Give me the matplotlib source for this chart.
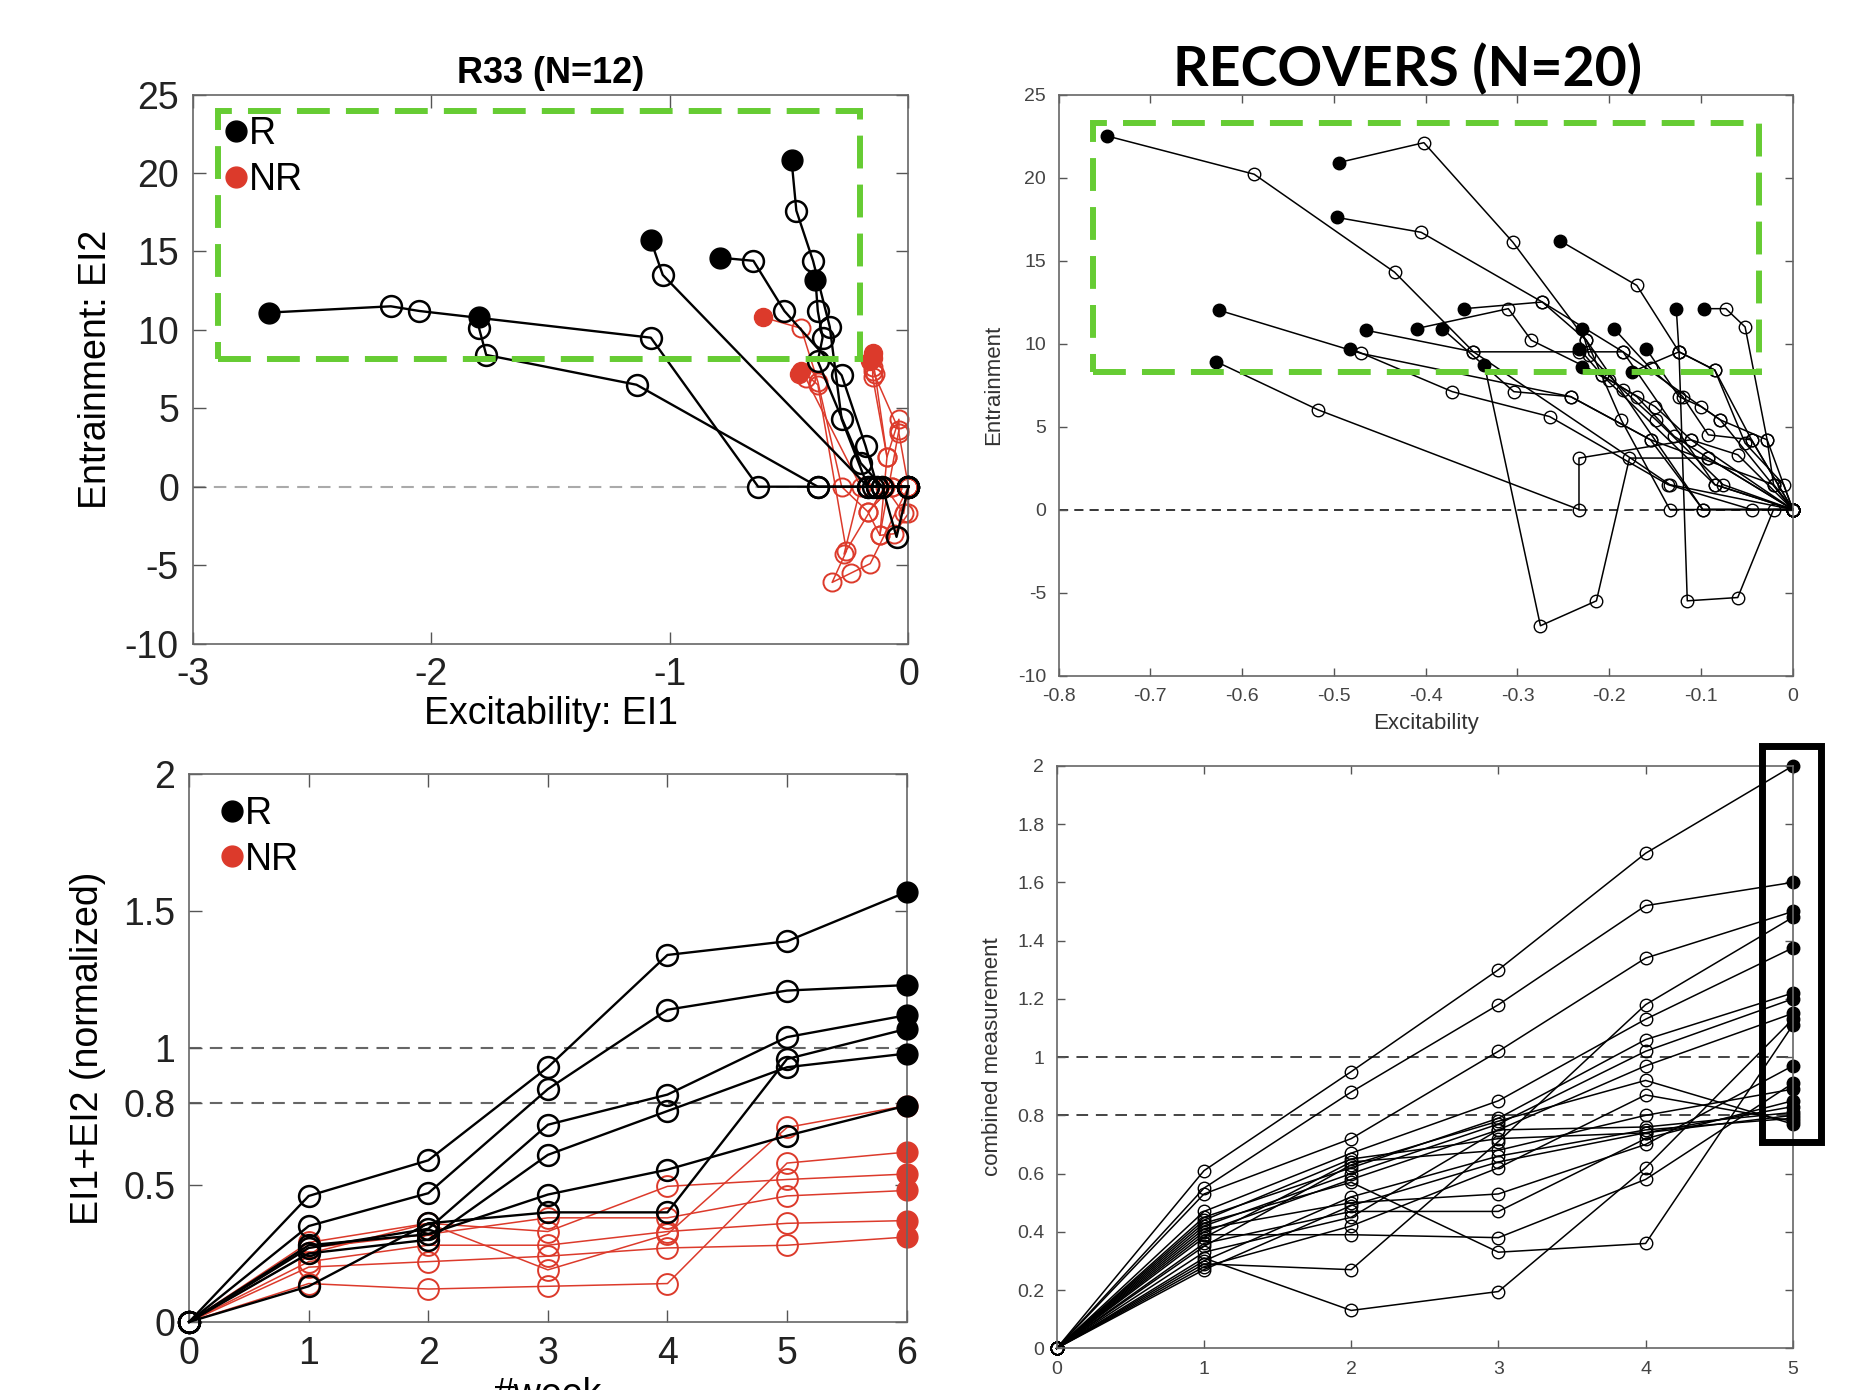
import matplotlib
matplotlib.use("Agg")
import matplotlib.pyplot as plt
from matplotlib.lines import Line2D
from matplotlib.patches import Rectangle

plt.rcParams['font.family'] = ['Liberation Sans', 'DejaVu Sans']
plt.rcParams['axes.unicode_minus'] = False

# ---- top left: R33, EI1 vs EI2 trajectories (week 0 .. week 6) ----
r33_R_x = [
    [0, -0.38, -0.63, -1.08, -2.05, -2.17, -2.68],
    [0, -0.13, -0.38, -1.14, -1.77, -1.80, -1.80],
    [0, -0.05, -0.11, -0.15, -0.17, -1.03, -1.08],
    [0, -0.13, -0.18, -0.28, -0.52, -0.65, -0.79],
    [0, -0.17, -0.28, -0.33, -0.40, -0.47, -0.49],
    [0, -0.11, -0.20, -0.38, -0.36, -0.38, -0.39],
]
r33_R_y = [
    [0, 0, 0, 9.5, 11.2, 11.5, 11.1],
    [0, 0, 0, 6.5, 8.4, 10.1, 10.8],
    [0, -3.2, 0, 0, 0, 13.5, 15.7],
    [0, 0, 2.6, 7.1, 11.2, 14.4, 14.6],
    [0, 0, 4.3, 10.2, 14.4, 17.6, 20.8],
    [0, 0, 1.5, 8.0, 9.5, 11.2, 13.2],
]
r33_NR_x = [
    [0, -0.07, -0.17, -0.28, -0.38, -0.45, -0.61],
    [0, -0.16, -0.24, -0.32, -0.26, -0.38, -0.45],
    [0, -0.04, -0.04, -0.09, -0.15, -0.15, -0.15],
    [0, 0.0, -0.06, -0.12, -0.09, -0.14, -0.15],
    [0, -0.07, -0.17, -0.12, -0.04, -0.15, -0.16],
    [0, -0.02, -0.10, -0.27, -0.20, -0.43, -0.46],
]
r33_NR_y = [
    [0, 0, -1.6, 0, 6.7, 10.1, 10.8],
    [0, -4.9, -5.5, -6.1, -4.1, 6.5, 7.4],
    [0, 3.4, 4.3, 1.9, 7.0, 7.6, 8.5],
    [0, -1.7, -3.0, -3.1, 1.9, 7.2, 8.2],
    [0, 0, -1.6, -3.1, 3.6, 7.4, 8.0],
    [0, -1.7, 0, -4.3, 0, 6.9, 7.2],
]

# ---- bottom left: EI1+EI2 per week ----
weeks6 = [0, 1, 2, 3, 4, 5, 6]
comb_R = [
    [0, 0.46, 0.59, 0.93, 1.34, 1.39, 1.57],
    [0, 0.35, 0.47, 0.85, 1.14, 1.21, 1.23],
    [0, 0.27, 0.34, 0.72, 0.83, 1.04, 1.12],
    [0, 0.25, 0.30, 0.61, 0.77, 0.93, 0.98],
    [0, 0.28, 0.32, 0.465, 0.556, 0.68, 0.79],
    [0, 0.13, 0.36, 0.40, 0.40, 0.96, 1.07],
]
comb_NR = [
    [0, 0.29, 0.36, 0.33, 0.495, 0.52, 0.54],
    [0, 0.14, 0.12, 0.13, 0.14, 0.58, 0.62],
    [0, 0.25, 0.36, 0.19, 0.32, 0.71, 0.79],
    [0, 0.27, 0.32, 0.38, 0.38, 0.46, 0.48],
    [0, 0.22, 0.28, 0.28, 0.33, 0.36, 0.37],
    [0, 0.20, 0.22, 0.24, 0.27, 0.28, 0.31],
]

# ---- top right: RECOVERS (N=20), week 0 .. week 5 ----
rec_x = [
    [0, -0.134, -0.348, -0.434, -0.587, -0.747],
    [0, -0.098, -0.225, -0.305, -0.402, -0.495],
    [0, -0.085, -0.185, -0.273, -0.405, -0.497],
    [0, -0.045, -0.085, -0.124, -0.17, -0.254],
    [0, -0.021, -0.155, -0.242, -0.47, -0.625],
    [0, -0.111, -0.233, -0.233, -0.517, -0.628],
    [0, -0.021, -0.06, -0.115, -0.124, -0.127],
    [0, -0.092, -0.178, -0.214, -0.275, -0.336],
    [0, -0.021, -0.028, -0.052, -0.073, -0.097],
    [0, -0.079, -0.185, -0.233, -0.348, -0.465],
    [0, -0.085, -0.208, -0.285, -0.31, -0.41],
    [0, -0.098, -0.155, -0.242, -0.304, -0.382],
    [0, -0.134, -0.187, -0.225, -0.273, -0.358],
    [0, -0.045, -0.136, -0.265, -0.371, -0.482],
    [0, -0.076, -0.149, -0.185, -0.222, -0.23],
    [0, -0.092, -0.129, -0.17, -0.208, -0.233],
    [0, -0.06, -0.111, -0.15, -0.2, -0.23],
    [0, -0.045, -0.092, -0.12, -0.155, -0.195],
    [0, -0.028, -0.079, -0.1, -0.124, -0.16],
    [0, -0.01, -0.052, -0.085, -0.124, -0.175],
]
rec_y = [
    [0, 1.5, 9.5, 14.3, 20.2, 22.5],
    [0, 0, 10.2, 16.1, 22.1, 20.9],
    [0, 1.5, 9.5, 12.5, 16.7, 17.6],
    [0, 4.2, 8.4, 9.5, 13.5, 16.2],
    [0, 1.5, 4.2, 6.8, 9.4, 12.0],
    [0, 4.2, 3.1, 0, 6.0, 8.9],
    [0, 0, -5.3, -5.5, 9.5, 12.1],
    [0, 3.1, 3.1, -5.5, -7.0, 8.7],
    [0, 1.5, 4.2, 11.0, 12.1, 12.1],
    [0, 5.4, 9.5, 9.5, 9.5, 10.8],
    [0, 1.5, 8.1, 10.2, 12.1, 10.9],
    [0, 0, 4.2, 6.8, 7.1, 10.9],
    [0, 0, 5.4, 10.2, 12.5, 12.1],
    [0, 0, 1.5, 5.6, 7.1, 9.7],
    [0, 1.5, 5.4, 7.2, 9.3, 10.9],
    [0, 3.1, 4.4, 6.8, 8.1, 9.7],
    [0, 3.3, 4.2, 6.2, 7.8, 8.6],
    [0, 4.2, 4.5, 6.8, 8.5, 10.9],
    [0, 4.2, 5.4, 6.2, 6.8, 9.7],
    [0, 1.5, 4.0, 8.4, 9.5, 8.3],
]

# ---- bottom right: combined measurement, week 0 .. week 5 ----
weeks5 = [0, 1, 2, 3, 4, 5]
rec_comb = [
    [0, 0.61, 0.95, 1.30, 1.70, 2.00],
    [0, 0.55, 0.88, 1.18, 1.52, 1.60],
    [0, 0.53, 0.72, 1.02, 1.34, 1.50],
    [0, 0.29, 0.27, 0.71, 1.18, 1.48],
    [0, 0.47, 0.67, 0.85, 1.13, 1.375],
    [0, 0.45, 0.62, 0.79, 1.06, 1.22],
    [0, 0.42, 0.60, 0.77, 1.02, 1.20],
    [0, 0.40, 0.58, 0.75, 0.97, 1.15],
    [0, 0.31, 0.13, 0.195, 0.62, 1.13],
    [0, 0.43, 0.57, 0.33, 0.36, 1.11],
    [0, 0.39, 0.39, 0.38, 0.58, 0.91],
    [0, 0.41, 0.50, 0.53, 0.70, 0.97],
    [0, 0.36, 0.47, 0.47, 0.72, 0.85],
    [0, 0.44, 0.65, 0.72, 0.74, 0.83],
    [0, 0.38, 0.64, 0.68, 0.80, 0.89],
    [0, 0.33, 0.45, 0.75, 0.76, 0.81],
    [0, 0.30, 0.52, 0.66, 0.75, 0.79],
    [0, 0.28, 0.42, 0.62, 0.87, 0.78],
    [0, 0.35, 0.63, 0.78, 0.92, 0.77],
    [0, 0.27, 0.49, 0.64, 0.74, 0.80],
]

RED = '#dc3a2b'
GREEN = '#66cc33'


def traj(ax, x, y, color, ms, lw, mew, z=2):
    ax.plot(x, y, '-', color=color, lw=lw, clip_on=False, zorder=z)
    ax.plot(x[:-1], y[:-1], 'o', mfc='none', mec=color, ms=ms, mew=mew,
            clip_on=False, zorder=z)
    ax.plot(x[-1], y[-1], 'o', color=color, ms=ms, clip_on=False, zorder=z + 0.5)


def style(ax, fs, tcol, tlen, pad):
    ax.tick_params(direction='in', top=True, right=True, labelsize=fs,
                   labelcolor=tcol, color='#555555', length=tlen, width=1, pad=pad)
    for s in ax.spines.values():
        s.set_color('#666666')
        s.set_linewidth(1.2)


fig = plt.figure(figsize=(18.54, 13.90), dpi=100)

# top left
ax1 = fig.add_axes([0.104, 0.537, 0.386, 0.395])
ax1.axhline(0, color='#aaaaaa', ls='--', lw=1.5, dashes=(6, 4), zorder=1)
for x, y in zip(r33_NR_x, r33_NR_y):
    traj(ax1, x, y, RED, 13, 1.1, 1.4)
for x, y in zip(r33_R_x, r33_R_y):
    traj(ax1, x, y, 'black', 15, 1.7, 1.8, z=3)
ax1.add_patch(Rectangle((-2.895, 8.13), 2.69, 15.82, fill=False, ec=GREEN,
                        lw=4.3, ls=(0, (5.5, 2.7)), zorder=4))
ax1.set_xlim(-3, 0)
ax1.set_ylim(-10, 25)
ax1.set_xticks([-3, -2, -1, 0])
ax1.set_yticks(range(-10, 26, 5))
style(ax1, 27, '#222222', 9, 10)
ax1.set_title('R33 (N=12)', fontsize=26, fontweight='bold', pad=8)
ax1.set_xlabel('Excitability: EI1', fontsize=27, labelpad=2)
ax1.set_ylabel('Entrainment: EI2', fontsize=27, labelpad=8)
h = [Line2D([], [], ls='none', marker='o', color='black', ms=15),
     Line2D([], [], ls='none', marker='o', color=RED, ms=15)]
leg_kw = dict(loc='upper left', frameon=False, fontsize=27, handlelength=0.5,
              handletextpad=0.1, labelspacing=0.25, borderaxespad=0, borderpad=0)
ax1.legend(h, ['R', 'NR'], bbox_to_anchor=(0.047, 0.96), **leg_kw)

# top right
ax2 = fig.add_axes([0.571, 0.514, 0.396, 0.418])
ax2.axhline(0, color='black', ls='--', lw=1.1, dashes=(6, 4), zorder=1)
for x, y in zip(rec_x, rec_y):
    traj(ax2, x, y, 'black', 9, 1.1, 1.0)
ax2.add_patch(Rectangle((-0.763, 8.28), 0.726, 14.99, fill=False, ec=GREEN,
                        lw=4.3, ls=(0, (5.5, 2.7)), zorder=4))
ax2.set_xlim(-0.8, 0)
ax2.set_ylim(-10, 25)
ax2.set_xticks([-0.8, -0.7, -0.6, -0.5, -0.4, -0.3, -0.2, -0.1, 0])
ax2.set_xticklabels(['-0.8', '-0.7', '-0.6', '-0.5', '-0.4', '-0.3', '-0.2', '-0.1', '0'])
ax2.set_yticks(range(-10, 26, 5))
style(ax2, 14, '#444444', 6, 9)
ax2.set_title('RECOVERS (N=20)', fontsize=40, fontweight='bold',
              family=['Lato', 'DejaVu Sans'], pad=6, x=0.475)
ax2.set_xlabel('Excitability', fontsize=16, color='#333333', labelpad=6)
ax2.set_ylabel('Entrainment', fontsize=16, color='#333333', labelpad=10)

# bottom left
ax3 = fig.add_axes([0.102, 0.049, 0.387, 0.394])
for v in (1, 0.8):
    ax3.axhline(v, color='#666666', ls='--', lw=1.5, dashes=(6, 4), zorder=1)
for y in comb_NR:
    traj(ax3, weeks6, y, RED, 15, 1.1, 1.4)
for y in comb_R:
    traj(ax3, weeks6, y, 'black', 15, 1.7, 1.8, z=3)
ax3.set_xlim(0, 6)
ax3.set_ylim(0, 2)
ax3.set_xticks(weeks6)
ax3.set_yticks([0, 0.5, 0.8, 1, 1.5, 2])
ax3.set_yticklabels(['0', '0.5', '0.8', '1', '1.5', '2'])
style(ax3, 27, '#222222', 9, 10)
ax3.set_xlabel('#week', fontsize=27, labelpad=4)
ax3.set_ylabel('EI1+EI2 (normalized)', fontsize=27, labelpad=12)
ax3.legend(h, ['R', 'NR'], bbox_to_anchor=(0.047, 0.96), **leg_kw)

# bottom right
ax4 = fig.add_axes([0.570, 0.030, 0.397, 0.419])
for v in (1, 0.8):
    ax4.axhline(v, color='#444444', ls='--', lw=1.4, dashes=(6, 4), zorder=1)
for y in rec_comb:
    traj(ax4, weeks5, y, 'black', 9, 1.1, 1.0)
ax4.add_patch(Rectangle((4.79, 0.71), 0.40, 1.36, fill=False, ec='black',
                        lw=5, clip_on=False, zorder=5))
ax4.set_xlim(0, 5)
ax4.set_ylim(0, 2)
ax4.set_xticks(weeks5)
ax4.set_yticks([0, 0.2, 0.4, 0.6, 0.8, 1, 1.2, 1.4, 1.6, 1.8, 2])
ax4.set_yticklabels(['0', '0.2', '0.4', '0.6', '0.8', '1', '1.2', '1.4', '1.6', '1.8', '2'])
style(ax4, 14, '#444444', 6, 9)
ax4.set_ylabel('combined measurement', fontsize=16, color='#333333', labelpad=10)

fig.savefig('out.png', dpi=100)
